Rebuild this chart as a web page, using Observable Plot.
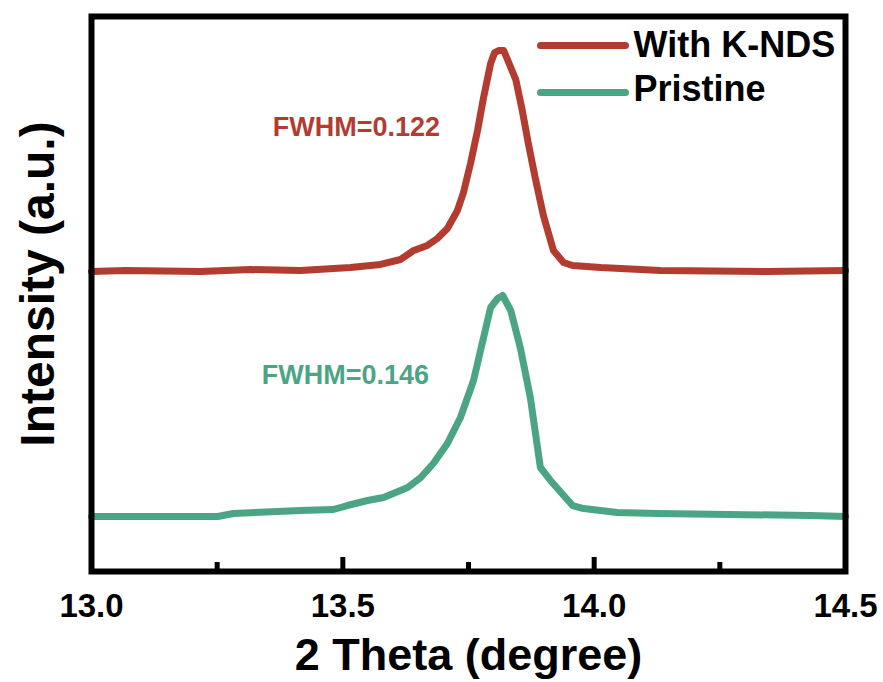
<!DOCTYPE html>
<html><head><meta charset="utf-8">
<script src="https://cdn.jsdelivr.net/npm/d3@7"></script>
<script src="https://cdn.jsdelivr.net/npm/@observablehq/plot@0.6"></script>
<style>body{margin:0;background:#fff;}</style>
</head><body><div id="chart"></div>
<script>
const series = ["With K-NDS", "Pristine"];
const colors = ["#b33c31", "#4ba585"];

const kndsTheta = [13.000, 13.068, 13.217, 13.316, 13.416, 13.515, 13.575, 13.615, 13.641, 13.668, 13.688, 13.708, 13.728, 13.740, 13.754, 13.768, 13.780, 13.794, 13.802, 13.810, 13.820, 13.830, 13.844, 13.857, 13.869, 13.883, 13.899, 13.919, 13.939, 13.957, 14.013, 14.132, 14.345, 14.500];
const kndsIntensity = [54.05, 54.23, 54.05, 54.41, 54.23, 54.77, 55.32, 56.22, 57.84, 58.74, 60.00, 61.80, 65.05, 68.29, 73.51, 79.46, 85.41, 91.53, 93.51, 93.87, 93.87, 91.71, 88.65, 83.06, 77.12, 70.81, 64.14, 57.84, 55.68, 55.14, 54.77, 54.23, 54.05, 54.23];

const pristineTheta = [13.000, 13.251, 13.282, 13.416, 13.481, 13.509, 13.549, 13.581, 13.629, 13.655, 13.680, 13.708, 13.734, 13.760, 13.780, 13.794, 13.808, 13.818, 13.834, 13.853, 13.873, 13.893, 13.913, 13.957, 13.979, 14.046, 14.126, 14.430, 14.500];
const pristineIntensity = [9.91, 9.91, 10.45, 10.99, 11.17, 11.89, 12.79, 13.33, 15.14, 16.94, 19.46, 23.06, 27.75, 34.41, 42.16, 47.57, 49.19, 49.73, 47.03, 40.36, 31.35, 18.74, 16.40, 11.89, 11.35, 10.63, 10.45, 10.09, 9.91];

const xTickLabels = [13.0, 13.5, 14.0, 14.5];
const majorTicks = [13.5, 14.0];
const minorTicks = [13.25, 13.75, 14.25];

const annotationLabels = ["FWHM=0.122", "FWHM=0.146"];
const annotationTheta = [13.527, 13.505];
const annotationIntensity = [80.0, 35.3];

const xLabel = "2 Theta (degree)";
const yLabel = "Intensity (a.u.)";

const data = [
  ...kndsTheta.map((t, i) => ({series: series[0], theta: t, intensity: kndsIntensity[i]})),
  ...pristineTheta.map((t, i) => ({series: series[1], theta: t, intensity: pristineIntensity[i]}))
];
const annotations = annotationLabels.map((l, i) => ({label: l, theta: annotationTheta[i], intensity: annotationIntensity[i], series: series[i]}));

const lineShape = {draw(context, l) { context.moveTo(0, 0); context.lineTo(0, -l); }};

const legendMarks = series.flatMap((s, i) => [
  Plot.vector([s], {frameAnchor: "top-right", dx: -305, dy: 29 + i * 47, length: 85, rotate: 90, anchor: "start", shape: lineShape, stroke: colors[i], strokeWidth: 7, strokeLinecap: "round"}),
  Plot.text([s], {frameAnchor: "top-right", dx: -212, dy: 29 + i * 44, textAnchor: "start", lineAnchor: "middle", fontSize: 36, fontWeight: "bold", fill: "black"})
]);

const chart = Plot.plot({
  width: 883, height: 682,
  marginLeft: 91, marginRight: 38, marginTop: 16, marginBottom: 111,
  style: {fontFamily: "'Liberation Sans', Arial, sans-serif", fontWeight: "bold", background: "white", color: "black"},
  x: {domain: [13, 14.5]},
  y: {domain: [0, 100], axis: null},
  color: {domain: series, range: colors},
  marks: [
    Plot.line(data, {x: "theta", y: "intensity", z: "series", stroke: "series", strokeWidth: 7, strokeLinejoin: "round"}),
    Plot.axisX(majorTicks, {tickSize: -14, strokeWidth: 5, text: null, label: null, stroke: "black"}),
    Plot.axisX(minorTicks, {tickSize: -9, strokeWidth: 5, text: null, label: null, stroke: "black"}),
    Plot.axisX(xTickLabels, {tickSize: 0, tickPadding: 22, tickFormat: d3.format(".1f"), fontSize: 33, fontWeight: "bold", label: null, fill: "black"}),
    Plot.frame({stroke: "black", strokeWidth: 6}),
    Plot.text([xLabel], {frameAnchor: "bottom", dy: 84, textAnchor: "middle", lineAnchor: "middle", fontSize: 45, fontWeight: "bold", fill: "black"}),
    Plot.text([yLabel], {frameAnchor: "left", rotate: -90, dx: -53, dy: -10, textAnchor: "middle", lineAnchor: "middle", fontSize: 48, fontWeight: "bold", fill: "black"}),
    Plot.text(annotations, {x: "theta", y: "intensity", text: "label", fill: "series", fontSize: 27, fontWeight: "bold"}),
    ...legendMarks
  ]
});
document.getElementById("chart").appendChild(chart);
</script>
</body></html>
